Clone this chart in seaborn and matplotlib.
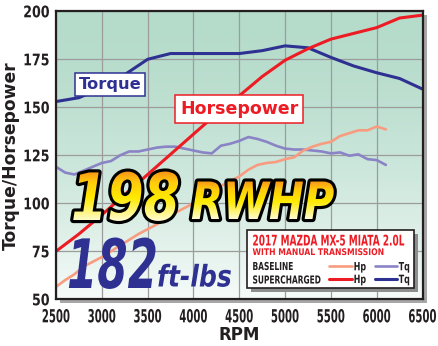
import numpy as np
import pandas as pd
import matplotlib
matplotlib.use("Agg")
import matplotlib.pyplot as plt
import matplotlib.patheffects as pe
from matplotlib.patches import Rectangle
from matplotlib.lines import Line2D
from matplotlib.transforms import Affine2D, TransformedPath
import seaborn as sns

# ---- dyno data ----
rpm_sc = [2500, 2750, 3000, 3250, 3500, 3750, 4000, 4250, 4500,
          4750, 5000, 5250, 5500, 5750, 6000, 6250, 6500]
sc_hp = [75, 84, 94, 104.5, 115, 125.5, 136, 146.5, 156,
         166, 174.5, 180.5, 185.5, 188.5, 191.5, 196.5, 198]
sc_tq = [153, 155, 160, 167, 175, 178, 178, 178, 178,
         179.5, 182, 181, 176, 171.5, 168, 165, 159.5]

rpm_base = [2500, 2600, 2700, 2800, 2900, 3000, 3100, 3200, 3300, 3400,
            3500, 3600, 3700, 3800, 3900, 4000, 4100, 4200, 4300, 4400,
            4500, 4600, 4700, 4800, 4900, 5000, 5100, 5200, 5300, 5400,
            5500, 5600, 5700, 5800, 5900, 6000, 6100]
base_hp = [56.5, 60, 63, 67, 69.5, 72, 75, 78, 81, 84,
           86.5, 89, 92, 95, 97.5, 100, 103, 106, 109, 111.5,
           114, 117.5, 120, 121, 121.5, 123, 124, 127.5, 129.5, 131,
           132, 135, 136.5, 138, 138, 140, 138.5]
base_tq = [119, 116, 115, 117, 119, 121, 122, 125, 127, 127,
           128, 129, 129.5, 129.5, 128.5, 127.5, 126.5, 126, 130, 131,
           132.5, 134.5, 133.5, 132, 130, 128.5, 128, 128, 127.5, 127,
           126, 126.5, 124.8, 125.5, 123, 122.5, 120]

x_ticks = [2500, 3000, 3500, 4000, 4500, 5000, 5500, 6000, 6500]
y_ticks = [50, 75, 100, 125, 150, 175, 200]

peak_hp = 198
peak_tq = 182

C_SC_TQ = "#2e3192"
C_SC_HP = "#ed1c24"
C_B_HP = "#f89c80"
C_B_TQ = "#8a84c6"
INK = "#231f20"


class Squeeze(pe.AbstractPathEffect):
    """Horizontally condense text glyphs, with optional outline and
    vertical gradient fill."""

    def __init__(self, sx, anchor="left", stroke=None, gradient=None):
        super().__init__()
        self.sx = sx
        self.anchor = anchor
        self.stroke = stroke
        self.gradient = gradient

    def draw_path(self, renderer, gc, tpath, affine, rgbFace=None):
        xs = tpath.vertices[:, 0]
        if self.anchor == "left":
            cx = xs.min()
        elif self.anchor == "right":
            cx = xs.max()
        else:
            cx = 0.5 * (xs.min() + xs.max())
        sq = Affine2D().translate(-cx, 0).scale(self.sx, 1).translate(cx, 0) + affine
        if self.stroke is not None:
            lw, col = self.stroke
            gc0 = renderer.new_gc()
            gc0.copy_properties(gc)
            gc0.set_linewidth(lw)
            gc0.set_foreground(col)
            gc0.set_joinstyle("round")
            renderer.draw_path(gc0, tpath, sq, rgbFace)
            gc0.restore()
        if self.gradient is None:
            renderer.draw_path(gc, tpath, sq, rgbFace)
            return
        ext = sq.transform_path(tpath).get_extents()
        x0, y0 = int(np.floor(ext.x0)) - 1, int(np.floor(ext.y0)) - 1
        w, h = int(np.ceil(ext.width)) + 3, int(np.ceil(ext.height)) + 3
        stops_t = [s[0] for s in self.gradient]
        stops_c = np.array([s[1] for s in self.gradient], dtype=float)
        tt = np.linspace(0, 1, h)
        rgb = np.stack([np.interp(tt, stops_t, stops_c[:, k]) for k in range(3)], axis=1)
        im = np.empty((h, w, 4), dtype=np.uint8)
        im[..., :3] = (rgb[:, None, :] * 255).astype(np.uint8)
        im[..., 3] = 255
        gc2 = renderer.new_gc()
        gc2.copy_properties(gc)
        gc2.set_clip_path(TransformedPath(tpath, sq))
        renderer.draw_image(gc2, x0, y0, im)
        gc2.restore()


sns.set_theme(style="white")
plt.rcParams["font.family"] = ["DejaVu Sans"]

W, H = 438, 346
fig = plt.figure(figsize=(W / 100, H / 100), dpi=100)
fig.patch.set_facecolor("white")

L, R, T, B = 56, 422.5, 11.3, 299.3
ax = fig.add_axes([L / W, 1 - B / H, (R - L) / W, (B - T) / H])


def P(x, y):
    """pixel position (from top-left) -> figure fraction"""
    return x / W, 1 - y / H


# drop shadow behind the plot frame
fig.add_artist(Rectangle(P(L + 4, B + 4), (R - L) / W, (B - T) / H,
                         transform=fig.transFigure, facecolor="#a7a7a7",
                         edgecolor="none", zorder=-5))

# background gradient (green at top fading to white)
t = np.linspace(0, 1, 256)[:, None] ** 1.7
top = np.array([0.71, 0.86, 0.795])
bot = np.array([0.965, 0.985, 0.978])
grad = top[None, None, :] + (bot - top)[None, None, :] * t[:, :, None]
ax.imshow(grad, extent=[0, 1, 0, 1], transform=ax.transAxes,
          aspect="auto", zorder=0, origin="upper")

df_sc = pd.DataFrame({"rpm": rpm_sc, "hp": sc_hp, "tq": sc_tq})
df_b = pd.DataFrame({"rpm": rpm_base, "hp": base_hp, "tq": base_tq})

sns.lineplot(data=df_b, x="rpm", y="tq", ax=ax, color=C_B_TQ, lw=1.9, zorder=3)
sns.lineplot(data=df_b, x="rpm", y="hp", ax=ax, color=C_B_HP, lw=1.9, zorder=3)
sns.lineplot(data=df_sc, x="rpm", y="tq", ax=ax, color=C_SC_TQ, lw=2.2, zorder=4)
sns.lineplot(data=df_sc, x="rpm", y="hp", ax=ax, color=C_SC_HP, lw=2.2, zorder=4)

ax.set_xlim(2500, 6500)
ax.set_ylim(50, 200)
ax.set_xticks(x_ticks)
ax.set_yticks(y_ticks)
ax.grid(True, color="#9c9c9c", lw=0.9, zorder=1)
ax.set_axisbelow(False)
for gl in ax.get_xgridlines() + ax.get_ygridlines():
    gl.set_zorder(1)

ax.set_xticklabels([str(v) for v in x_ticks], fontsize=13, fontweight="bold",
                   color=INK)
ax.set_yticklabels([str(v) for v in y_ticks], fontsize=11.5, fontweight="bold",
                   color=INK)
for lbl in ax.get_xticklabels():
    lbl.set_path_effects([Squeeze(0.56, anchor="center")])
for lbl in ax.get_yticklabels():
    lbl.set_path_effects([Squeeze(0.79, anchor="right")])
ax.tick_params(axis="both", length=0)
ax.tick_params(axis="x", pad=6.5)
ax.tick_params(axis="y", pad=4.5)

for s in ax.spines.values():
    s.set_color(INK)
    s.set_linewidth(1.6)
    s.set_zorder(6)

ax.set_xlabel("RPM", fontsize=12, fontweight="bold", color=INK, va="center")
ax.xaxis.set_label_coords(0.5, -(335 - B) / (B - T))
ax.set_ylabel("Torque/Horsepower", fontsize=12.3, fontweight="bold",
              color=INK, va="center")
ax.yaxis.set_label_coords(-(L - 10.4) / (R - L), 0.5)

# curve captions
ax.text(*P(110, 84.5), "Torque", transform=fig.transFigure, ha="center",
        va="center", fontsize=11.7, fontweight="bold", color=C_SC_TQ, zorder=7,
        bbox=dict(boxstyle="square,pad=0.25", fc="white", ec=C_SC_TQ, lw=1.1))
ax.text(*P(239, 109), "Horsepower", transform=fig.transFigure, ha="center",
        va="center", fontsize=12.5, fontweight="bold", color=C_SC_HP, zorder=7,
        bbox=dict(boxstyle="square,pad=0.28", fc="white", ec=C_SC_HP, lw=1.1))

# headline numbers
big = dict(weight="bold", style="italic")
gold = [(0.0, (1.0, 0.99, 0.85)), (0.45, (1.0, 0.92, 0.0)),
        (0.75, (1.0, 0.80, 0.05)), (1.0, (0.97, 0.55, 0.1))]
fig.text(*P(71, 220), f"{peak_hp}", fontsize=47, color="#ffe21a",
         va="baseline", ha="left", zorder=8,
         path_effects=[Squeeze(0.8, stroke=(4.5, "black"), gradient=gold)], **big)
fig.text(*P(191, 219), "RWHP", fontsize=37, color="#ffe21a",
         va="baseline", ha="left", zorder=8,
         path_effects=[Squeeze(0.81, stroke=(4.5, "black"), gradient=gold)], **big)
fig.text(*P(67, 288), f"{peak_tq}", fontsize=49, color=C_SC_TQ,
         va="baseline", ha="left", zorder=8,
         path_effects=[Squeeze(0.64)], **big)
fig.text(*P(157, 286.5), "ft-lbs", fontsize=21.5, color=C_SC_TQ,
         va="baseline", ha="left", zorder=8,
         path_effects=[Squeeze(0.84)], **big)

# key box
bx0, by0, bx1, by1 = 246.7, 230, 414, 288.3
fig.add_artist(Rectangle(P(bx0 + 4, by1 + 4), (bx1 - bx0) / W, (by1 - by0) / H,
                         transform=fig.transFigure, fc="#8e8e8e", ec="none",
                         zorder=9))
fig.add_artist(Rectangle(P(bx0, by1), (bx1 - bx0) / W, (by1 - by0) / H,
                         transform=fig.transFigure, fc="white", ec=INK,
                         lw=1.2, zorder=10))
fig.text(*P(252.5, 245.5), "2017 MAZDA MX-5 MIATA 2.0L", fontsize=10.6,
         color=C_SC_HP, va="baseline", ha="left", zorder=11, weight="bold",
         path_effects=[Squeeze(0.61)])
fig.text(*P(252.5, 255), "WITH MANUAL TRANSMISSION", fontsize=6.6,
         color=C_SC_HP, va="baseline", ha="left", zorder=11, weight="bold",
         path_effects=[Squeeze(0.84)])
fig.text(*P(252.5, 270), "BASELINE", fontsize=7.9, color=INK, va="baseline",
         ha="left", zorder=11, weight="bold", path_effects=[Squeeze(0.68)])
fig.text(*P(252.5, 283.5), "SUPERCHARGED", fontsize=7.9, color=INK,
         va="baseline", ha="left", zorder=11, weight="bold",
         path_effects=[Squeeze(0.68)])
for yy, chp, ctq, lw in [(266.3, C_B_HP, C_B_TQ, 1.9), (279, C_SC_HP, C_SC_TQ, 2.2)]:
    for x0, x1, col, lab in [(329.3, 351.7, chp, "Hp"), (375, 396.7, ctq, "Tq")]:
        xa, ya = P(x0, yy)
        xb, _ = P(x1, yy)
        fig.add_artist(Line2D([xa, xb], [ya, ya], transform=fig.transFigure,
                              color=col, lw=lw, zorder=11))
        fig.text(*P(x1 + 2, yy + 4), lab, fontsize=8.2, color=INK,
                 va="baseline", ha="left", zorder=11, weight="bold",
                 path_effects=[Squeeze(0.7)])

fig.savefig("out.png", dpi=100, facecolor="white")
